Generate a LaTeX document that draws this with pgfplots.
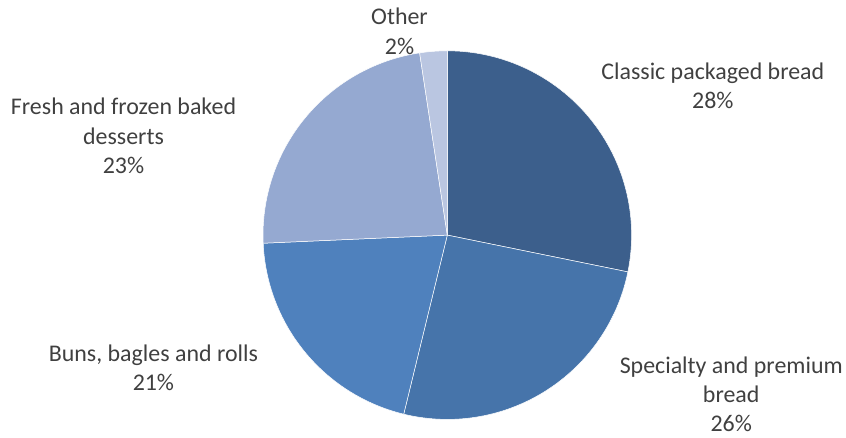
\documentclass[border=0pt]{standalone}
\usepackage{pgfplots}
\usepackage{pgfplotstable}
\pgfplotsset{compat=1.18}
\usepackage{fontspec}
\setmainfont{Carlito}

\definecolor{txt}{HTML}{404040}
\definecolor{c0}{HTML}{3C5F8C}
\definecolor{c1}{HTML}{4674AA}
\definecolor{c2}{HTML}{4F81BD}
\definecolor{c3}{HTML}{95A9D1}
\definecolor{c4}{HTML}{BAC6E1}

% shares in percent, clockwise from 12 o'clock
\pgfplotstableread[col sep=comma]{
share
28.2
25.6
20.5
23.3
2.4
}\piedata

\begin{document}
\begin{tikzpicture}
\path (0,0) rectangle (846bp,439bp);
\begin{axis}[
    at={(0,0)}, anchor=south west,
    width=846bp, height=439bp, scale only axis,
    xmin=0, xmax=846, ymin=0, ymax=439,
    hide axis, clip=false,
]
\pgfplotsextra{
  \xdef\angstart{90}
  \foreach \i in {0,...,4} {
    \pgfplotstablegetelem{\i}{share}\of\piedata
    \pgfmathsetmacro\angend{\angstart-3.6*\pgfplotsretval}
    \fill[c\i, draw=white, line width=0.5bp, line join=round]
      (axis cs:449,203) -- plot[domain=\angstart:\angend, samples=60, variable=\t]
      (axis cs:{449+185*cos(\t)},{203+185*sin(\t)}) -- cycle;
    \xdef\angstart{\angend}
  }
}
\begin{scope}[every node/.style={text=txt, align=center,
    font=\fontsize{24bp}{29.3bp}\selectfont}]
\node at (axis cs:715.5,353) {Classic packaged bread\\28\%};
\node at (axis cs:734,43) {Specialty and premium\\bread\\26\%};
\node at (axis cs:154,70) {Buns, bagles and rolls\\21\%};
\node at (axis cs:124,302.5) {Fresh and frozen baked\\desserts\\23\%};
\node at (axis cs:401,407.5) {Other\\2\%};
\end{scope}
\end{axis}
\end{tikzpicture}
\end{document}
